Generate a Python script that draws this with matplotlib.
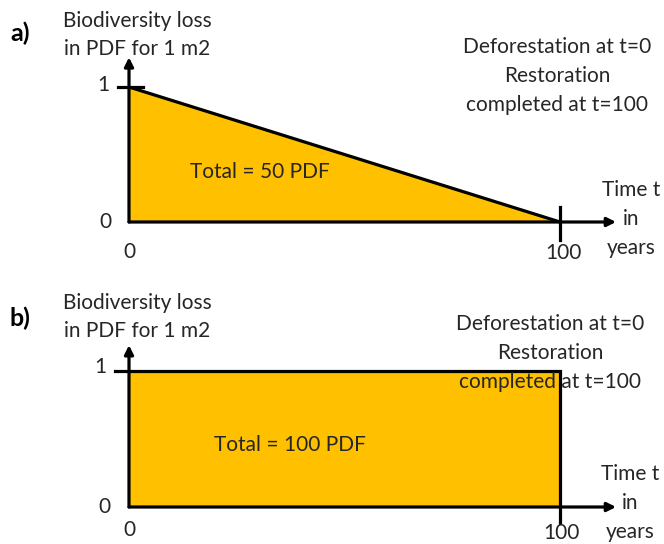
import matplotlib
matplotlib.use("Agg")
import matplotlib.pyplot as plt

plt.rcParams['font.family'] = ['Lato', 'DejaVu Sans']

W, H = 664, 544
# data
time_a = [0, 100]
loss_a = [1, 0]
time_b = [0, 100]
loss_b = [1, 1]
xticks = [0, 100]
yticks = [0, 1]
total_a = "Total = 50 PDF"
total_b = "Total = 100 PDF"
ylabel = "Biodiversity loss\nin PDF for 1 m2"
xlabel = "Time t\nin\nyears"
note = "Deforestation at t=0\nRestoration\ncompleted at t=100"

FILL = '#FFC000'
LW = 2.3
FS = 15
LS = 1.55
TC = '#262626'

fig = plt.figure(figsize=(W/100, H/100), dpi=100)

def fx(px):
    return px / W
def fy(py):
    return 1 - py / H

def make_ax(x0, x1, y0, y1):
    ax = fig.add_axes([x0/W, 1 - y0/H, (x1-x0)/W, (y0-y1)/H])
    ax.set_xlim(0, 100)
    ax.set_ylim(0, 1)
    ax.axis('off')
    return ax

arrow = dict(arrowstyle='-|>', color='black', lw=LW, mutation_scale=13, shrinkA=0, shrinkB=0)

# ---------- panel a ----------
axa = make_ax(129, 560, 222, 87)
axa.fill_between(time_a, loss_a, 0, color=FILL, lw=0, clip_on=False)
axa.plot(time_a, loss_a, color='black', lw=LW, clip_on=False, solid_capstyle='butt')
axa.annotate('', xy=(0, 1.22), xytext=(0, 0), arrowprops=arrow, annotation_clip=False)
axa.annotate('', xy=(113, 0), xytext=(0, 0), arrowprops=arrow, annotation_clip=False)
axa.plot([-2.5, 3.3], [yticks[1], yticks[1]], color='black', lw=LW, clip_on=False)
axa.plot([xticks[1], xticks[1]], [-0.13, 0.11], color='black', lw=LW, clip_on=False)

fig.text(fx(129), fy(252), str(xticks[0]), ha='center', va='center', fontsize=FS, color=TC)
fig.text(fx(563), fy(253), str(xticks[1]), ha='center', va='center', fontsize=FS, color=TC)
fig.text(fx(105), fy(222), str(yticks[0]), ha='center', va='center', fontsize=FS, color=TC)
fig.text(fx(103), fy(85), str(yticks[1]), ha='center', va='center', fontsize=FS, color=TC)
fig.text(fx(137), fy(35), ylabel, ha='center', va='center', fontsize=FS, linespacing=LS, color=TC)
fig.text(fx(20), fy(33), 'a)', ha='center', va='center', fontsize=FS+3, fontweight='bold')
fig.text(fx(557), fy(76), note, ha='center', va='center', fontsize=FS, linespacing=LS, color=TC)
fig.text(fx(631), fy(219), xlabel, ha='center', va='center', fontsize=FS, linespacing=LS, color=TC)
fig.text(fx(260), fy(172), total_a, ha='center', va='center', fontsize=FS, color=TC)

# ---------- panel b ----------
axb = make_ax(129, 560, 507, 371)
axb.fill_between(time_b, loss_b, 0, color=FILL, lw=0, clip_on=False)
axb.plot([-3.2, 100, 100], [1, 1, -0.12], color='black', lw=LW, clip_on=False, solid_joinstyle='miter')
axb.annotate('', xy=(0, 1.19), xytext=(0, 0), arrowprops=arrow, annotation_clip=False)
axb.annotate('', xy=(113, 0), xytext=(0, 0), arrowprops=arrow, annotation_clip=False)

fig.text(fx(129), fy(530), str(xticks[0]), ha='center', va='center', fontsize=FS, color=TC)
fig.text(fx(561), fy(533), str(xticks[1]), ha='center', va='center', fontsize=FS, color=TC)
fig.text(fx(104), fy(507), str(yticks[0]), ha='center', va='center', fontsize=FS, color=TC)
fig.text(fx(100), fy(367), str(yticks[1]), ha='center', va='center', fontsize=FS, color=TC)
fig.text(fx(137), fy(317), ylabel, ha='center', va='center', fontsize=FS, linespacing=LS, color=TC)
fig.text(fx(20), fy(318), 'b)', ha='center', va='center', fontsize=FS+3, fontweight='bold')
fig.text(fx(550), fy(353), note, ha='center', va='center', fontsize=FS, linespacing=LS, color=TC)
fig.text(fx(630), fy(503), xlabel, ha='center', va='center', fontsize=FS, linespacing=LS, color=TC)
fig.text(fx(290), fy(445), total_b, ha='center', va='center', fontsize=FS, color=TC)

fig.savefig('out.png', dpi=100)
